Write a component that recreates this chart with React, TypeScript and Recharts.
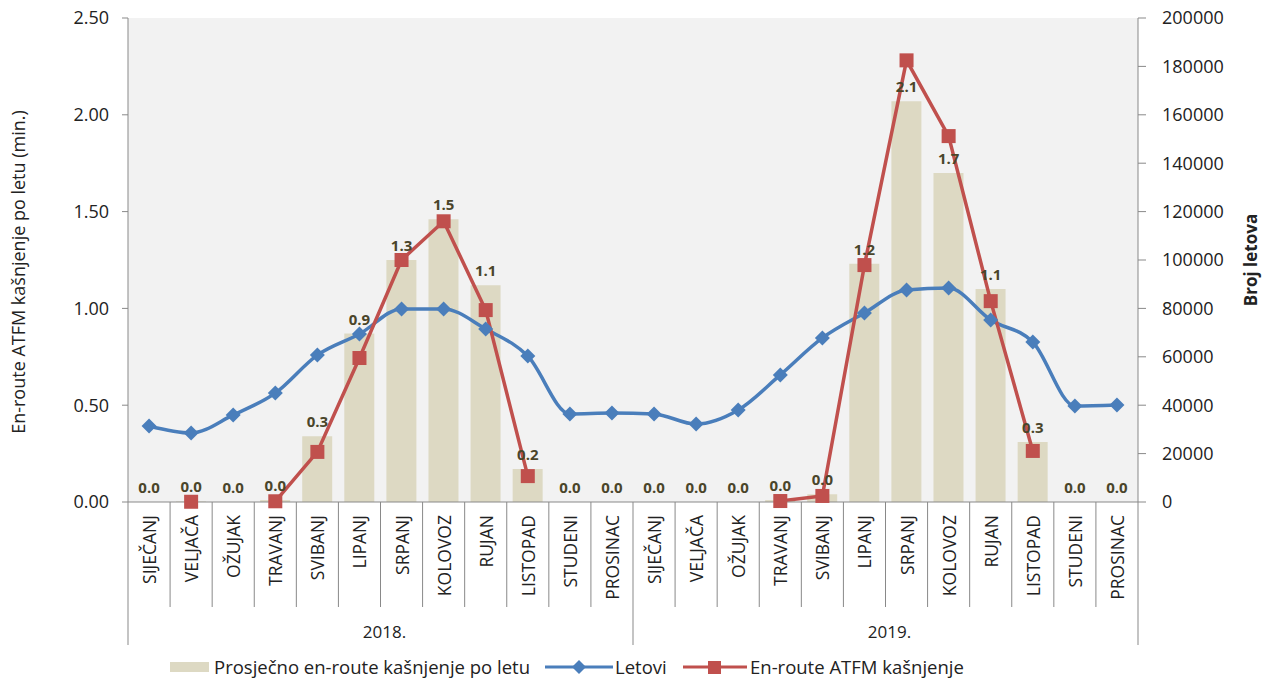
import { Bar, CartesianGrid, ComposedChart, LabelList, Legend, Line, XAxis, YAxis } from 'recharts'

const months = ['SIJEČANJ', 'VELJAČA', 'OŽUJAK', 'TRAVANJ', 'SVIBANJ', 'LIPANJ', 'SRPANJ', 'KOLOVOZ', 'RUJAN', 'LISTOPAD', 'STUDENI', 'PROSINAC']
const years = ['2018.', '2019.']

// prosjecno kasnjenje po letu (min.)
const avgDelay = [0.0, 0.003, 0.0, 0.01, 0.34, 0.87, 1.25, 1.46, 1.12, 0.17, 0.0, 0.0,
    0.0, 0.0, 0.0, 0.01, 0.04, 1.23, 2.07, 1.70, 1.10, 0.31, 0.0, 0.0]

// broj letova
const flights = [31400, 28500, 36000, 45000, 60700, 69400, 79800, 79800, 71500, 60300, 36400, 36800,
    36400, 32200, 38000, 52500, 67800, 78100, 87600, 88400, 75200, 66100, 39700, 40100]

// en-route ATFM kasnjenje (min.)
const atfmDelay = [null, 100, null, 300, 20700, 59500, 100000, 116000, 79300, 10700, null, null,
    null, null, null, 400, 2500, 97900, 182500, 151200, 83000, 21100, null, null]

const leftTicks = [0, 0.5, 1, 1.5, 2, 2.5]
const rightTicks = [0, 20000, 40000, 60000, 80000, 100000, 120000, 140000, 160000, 180000, 200000]

const data = avgDelay.map((v, i) => ({
    idx: i,
    month: months[i % 12],
    year: years[Math.floor(i / 12)],
    avg: v,
    flights: flights[i],
    delay: atfmDelay[i],
}))

const FONT = '"Open Sans", sans-serif'
const AXIS = '#898989'
const PLOT_LEFT = 128
const PLOT_RIGHT = 1138
const BAND = (PLOT_RIGHT - PLOT_LEFT) / data.length

function MonthTick(props: any) {
    const { x, y, payload } = props
    const i = payload.value as number
    const d = data[i]
    const half = BAND / 2
    const tall = i % 12 === 0
    return (
        <g>
            <line x1={x - half} y1={y} x2={x - half} y2={y + (tall ? 143 : 105)} stroke={AXIS} />
            {i === data.length - 1 && (
                <line x1={x + half} y1={y} x2={x + half} y2={y + 143} stroke={AXIS} />
            )}
            <text
                transform={`translate(${x},${y + 13}) rotate(-90)`}
                textAnchor="end"
                dominantBaseline="central"
                fontSize={17.5}
                fontFamily={FONT}
                fill="#222"
            >
                {d.month}
            </text>
            {i % 12 === 5 && (
                <text x={x + half + 4} y={y + 136} textAnchor="middle" fontSize={17} fontFamily={FONT} fill="#222">
                    {d.year}
                </text>
            )}
        </g>
    )
}

function ChartLegend() {
    const text = { fontSize: 18.5, fontFamily: FONT, color: '#222', lineHeight: '26px' }
    return (
        <div style={{ position: 'relative', height: 26, width: 1273 }}>
            <div style={{ position: 'absolute', left: 170, top: 8, width: 39, height: 10, background: '#ddd9c3' }} />
            <div style={{ position: 'absolute', left: 214, top: 0, ...text }}>Prosječno en-route kašnjenje po letu</div>
            <svg style={{ position: 'absolute', left: 545, top: 0 }} width={68} height={26}>
                <line x1={0} y1={13} x2={68} y2={13} stroke="#4a7ebb" strokeWidth={3} />
                <polygon points="34,6 41,13 34,20 27,13" fill="#4a7ebb" />
            </svg>
            <div style={{ position: 'absolute', left: 615, top: 0, ...text }}>Letovi</div>
            <svg style={{ position: 'absolute', left: 683, top: 0 }} width={64} height={26}>
                <line x1={0} y1={13} x2={64} y2={13} stroke="#c0504d" strokeWidth={3} />
                <rect x={25} y={7} width={13} height={13} fill="#c0504d" />
            </svg>
            <div style={{ position: 'absolute', left: 750, top: 0, ...text }}>En-route ATFM kašnjenje</div>
        </div>
    )
}

export default function App() {
    return (
        <div style={{ position: 'absolute', left: 0, top: 0 }}>
            <ComposedChart
                width={1273}
                height={684}
                data={data}
                margin={{ top: 18, right: 0, left: 8, bottom: 4 }}
                barCategoryGap="14%"
            >
                <CartesianGrid fill="#f2f2f2" horizontal={false} vertical={false} yAxisId="left" />
                <XAxis
                    dataKey="idx"
                    type="category"
                    height={152}
                    interval={0}
                    tickLine={false}
                    tickSize={0}
                    tickMargin={0}
                    axisLine={{ stroke: AXIS }}
                    tick={<MonthTick />}
                />
                <YAxis
                    yAxisId="left"
                    width={120}
                    domain={[0, 2.5]}
                    ticks={leftTicks}
                    tickFormatter={(v: number) => v.toFixed(2)}
                    axisLine={{ stroke: AXIS }}
                    tickLine={{ stroke: AXIS }}
                    tickSize={6}
                    tickMargin={13}
                    tick={{ fontSize: 18, fontFamily: FONT, fill: '#222' }}
                    label={{
                        value: 'En-route ATFM kašnjenje po letu (min.)',
                        angle: -90,
                        position: 'insideLeft',
                        offset: 11,
                        dy: 12,
                        style: { textAnchor: 'middle', fontSize: 18, fontFamily: FONT, fill: '#222' },
                    }}
                />
                <YAxis
                    yAxisId="right"
                    orientation="right"
                    width={135}
                    domain={[0, 200000]}
                    ticks={rightTicks}
                    axisLine={{ stroke: AXIS }}
                    tickLine={{ stroke: AXIS }}
                    tickSize={8}
                    tickMargin={16}
                    tick={{ fontSize: 18, fontFamily: FONT, fill: '#222' }}
                    label={{
                        value: 'Broj letova',
                        angle: -90,
                        position: 'insideRight',
                        offset: 22,
                        style: { textAnchor: 'middle', fontSize: 17, fontWeight: 'bold', fontFamily: FONT, fill: '#222' },
                    }}
                />
                <Legend verticalAlign="bottom" wrapperStyle={{ left: 0, width: 1273 }} content={() => <ChartLegend />} />
                <Bar yAxisId="left" dataKey="avg" fill="#ddd9c3" isAnimationActive={false} />
                {/* invisible carrier for the bar value labels, so zero bars get "0.0" too */}
                <Line
                    yAxisId="left"
                    dataKey="avg"
                    stroke="none"
                    dot={false}
                    activeDot={false}
                    legendType="none"
                    isAnimationActive={false}
                >
                    <LabelList
                        dataKey="avg"
                        position="top"
                        offset={9}
                        formatter={(v: any) => Number(v).toFixed(1)}
                        style={{ fontSize: 15, fontWeight: 'bold', fontFamily: FONT, fill: '#4a452a' }}
                    />
                </Line>
                <Line
                    yAxisId="right"
                    dataKey="flights"
                    type="monotone"
                    stroke="#4a7ebb"
                    strokeWidth={3.5}
                    dot={(p: any) => (
                        <polygon
                            key={`d${p.index}`}
                            points={`${p.cx},${p.cy - 7.5} ${p.cx + 7.5},${p.cy} ${p.cx},${p.cy + 7.5} ${p.cx - 7.5},${p.cy}`}
                            fill="#4a7ebb"
                        />
                    )}
                    isAnimationActive={false}
                />
                <Line
                    yAxisId="right"
                    dataKey="delay"
                    type="linear"
                    stroke="#c0504d"
                    strokeWidth={3.5}
                    dot={(p: any) =>
                        p.cy == null ? <g key={`s${p.index}`} /> : (
                            <rect key={`s${p.index}`} x={p.cx - 7} y={p.cy - 7} width={14} height={14} fill="#c0504d" />
                        )
                    }
                    isAnimationActive={false}
                />
            </ComposedChart>
        </div>
    )
}
